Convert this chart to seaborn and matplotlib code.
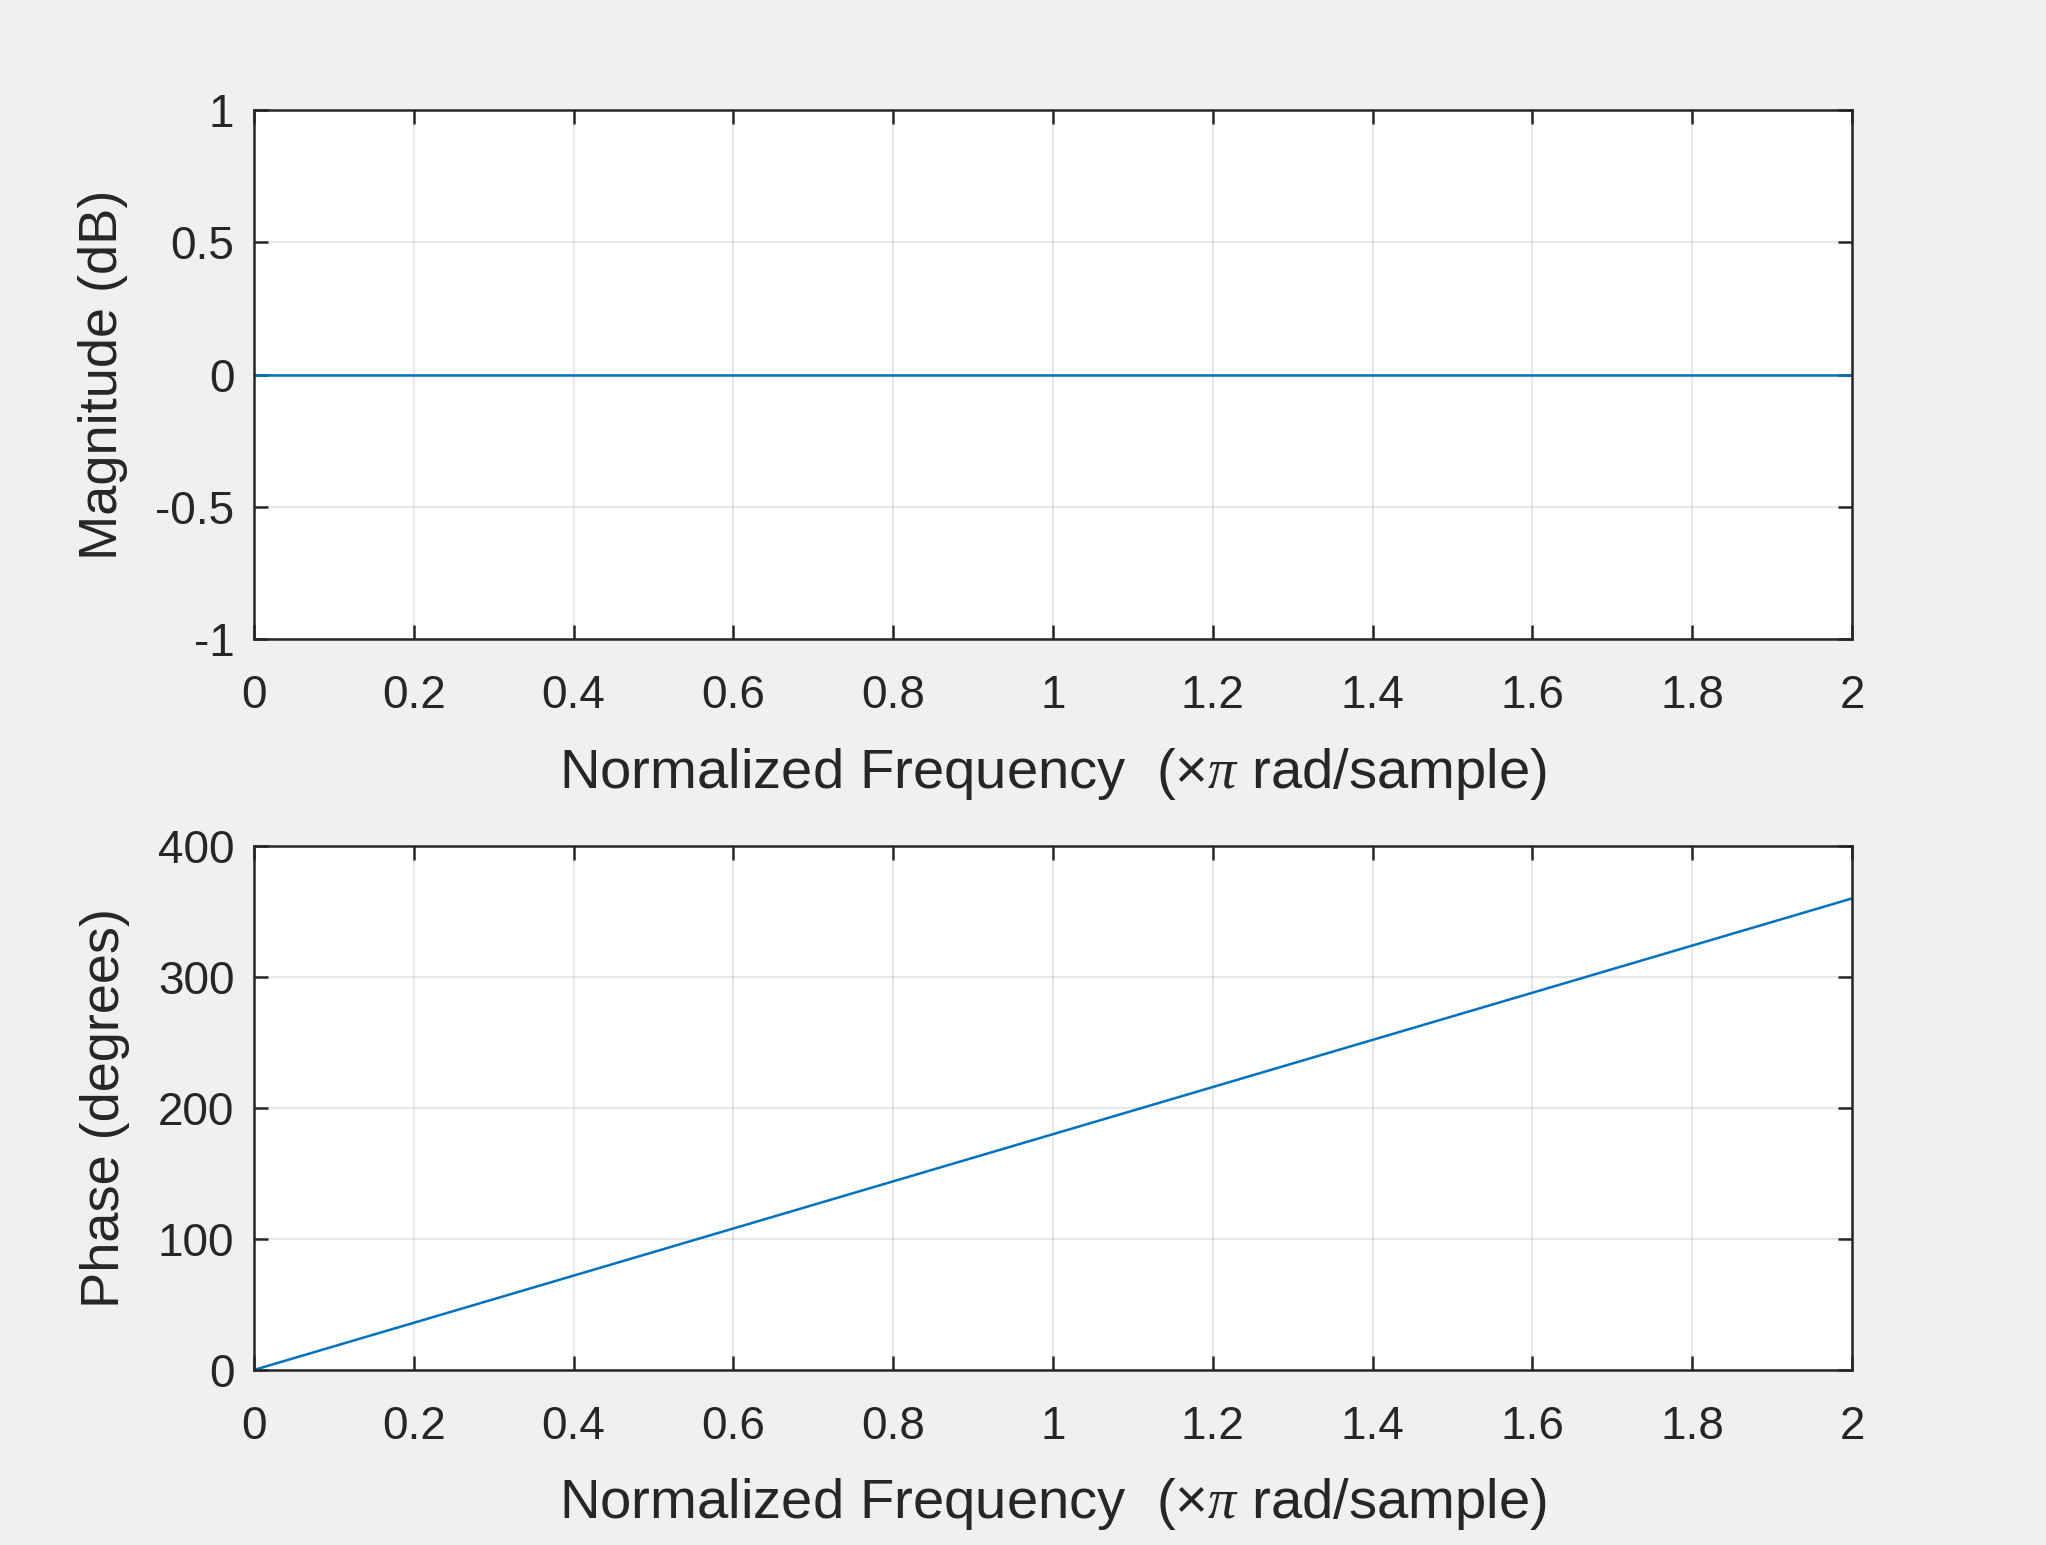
import numpy as np
import pandas as pd
import matplotlib
matplotlib.use("Agg")
import matplotlib.pyplot as plt
import seaborn as sns

# Data
freq = [0.0, 0.2, 0.4, 0.6, 0.8, 1.0, 1.2, 1.4, 1.6, 1.8, 2.0]
magnitude_db = [0, 0, 0, 0, 0, 0, 0, 0, 0, 0, 0]
phase_deg = [0, 36, 72, 108, 144, 180, 216, 252, 288, 324, 360]
xticks = [0, 0.2, 0.4, 0.6, 0.8, 1, 1.2, 1.4, 1.6, 1.8, 2]
xticklabels = ["0", "0.2", "0.4", "0.6", "0.8", "1", "1.2", "1.4", "1.6", "1.8", "2"]
mag_ticks = [-1, -0.5, 0, 0.5, 1]
mag_ticklabels = ["-1", "-0.5", "0", "0.5", "1"]
phase_ticks = [0, 100, 200, 300, 400]
phase_ticklabels = ["0", "100", "200", "300", "400"]

sns.set_style("white")
plt.rcParams["font.family"] = ["Liberation Sans", "DejaVu Sans"]
plt.rcParams["mathtext.fontset"] = "custom"
plt.rcParams["mathtext.rm"] = "Liberation Sans"
plt.rcParams["mathtext.it"] = "Liberation Serif:italic"

TXT = "#262626"
LINE = "#0072BD"
BG = "#F0F0F0"

df = pd.DataFrame({"freq": freq, "mag": magnitude_db, "phase": phase_deg})

fig = plt.figure(figsize=(20.46, 15.45), dpi=100, facecolor=BG)
ax1 = fig.add_axes([0.1241, 0.5864, 0.7811, 0.3424])
ax2 = fig.add_axes([0.1241, 0.1133, 0.7811, 0.3391])

xlabel = r"Normalized Frequency  ($\times\mathit{\pi}$ rad/sample)"

def style(ax, yticks, yticklabels, ylim, ylabel):
    ax.set_facecolor("white")
    ax.set_xlim(0, 2)
    ax.set_ylim(*ylim)
    ax.set_xticks(xticks)
    ax.set_xticklabels(xticklabels)
    ax.set_yticks(yticks)
    ax.set_yticklabels(yticklabels)
    ax.grid(True, color="#262626", alpha=0.13, linewidth=1.2)
    ax.set_axisbelow(True)
    for s in ax.spines.values():
        s.set_color(TXT)
        s.set_linewidth(1.8)
        s.set_visible(True)
    ax.tick_params(direction="in", length=10, width=1.8, colors=TXT,
                   labelsize=33, top=True, right=True, bottom=True, left=True)
    ax.tick_params(axis="x", pad=25)
    ax.tick_params(axis="y", pad=14)
    ax.set_xlabel(xlabel, fontsize=40.5, color=TXT, labelpad=20)
    ax.set_ylabel(ylabel, fontsize=39, color=TXT, labelpad=20)

sns.lineplot(data=df, x="freq", y="mag", ax=ax1, color=LINE, linewidth=1.8)
style(ax1, mag_ticks, mag_ticklabels, (-1, 1), "Magnitude (dB)")

sns.lineplot(data=df, x="freq", y="phase", ax=ax2, color=LINE, linewidth=1.8)
style(ax2, phase_ticks, phase_ticklabels, (0, 400), "Phase (degrees)")

fig.savefig("out.png", dpi=100, facecolor=BG)
